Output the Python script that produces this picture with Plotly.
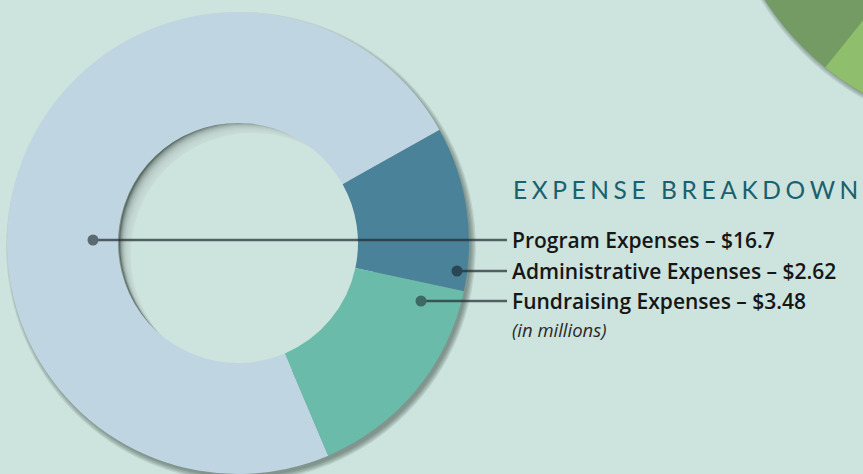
import plotly.graph_objects as go
import math

# ---- data ----
categories = ["Program Expenses", "Administrative Expenses", "Fundraising Expenses"]
values = [16.7, 2.62, 3.48]
value_labels = ["$16.7", "$2.62", "$3.48"]
slice_colors = ["#c0d5e2", "#4a8299", "#6abbaa"]
title_text = "EXPENSE BREAKDOWN"
note_text = "(in millions)"

W, H = 863, 474
BG = "#cde3dd"

# donut geometry in pixels
CX, CY, R = 238, 243, 231
R_HOLE = 120

def X(px):
    return px / W

def Y(py):
    return 1 - py / H

def circ(cx, cy, r, color, opacity=1.0, layer="below"):
    return dict(type="circle", xref="paper", yref="paper",
                x0=X(cx - r), x1=X(cx + r), y0=Y(cy + r), y1=Y(cy - r),
                fillcolor=color, opacity=opacity, line=dict(width=0), layer=layer)

shapes = []

# decorative green circle (top right)
GX, GY, GR = 1000, -150, 279
for k in range(5):
    shapes.append(circ(GX + 2, GY + 3, GR - 1 + k * 1.1, "#2f3f3c", 0.10))
shapes.append(circ(GX, GY, GR, "#739b63"))
pts = []
for i in range(41):
    a = math.radians(50 + (128.8 - 50) * i / 40)
    pts.append((GX + GR * math.cos(a), GY + GR * math.sin(a)))
path = "M {} {} ".format(X(GX), Y(GY)) + " ".join("L {} {}".format(X(px), Y(py)) for px, py in pts) + " Z"
shapes.append(dict(type="path", xref="paper", yref="paper", path=path,
                   fillcolor="#8fbe6d", line=dict(width=0), layer="below"))

# donut drop shadow
for k in range(5):
    shapes.append(circ(CX + 3, CY + 4, R - 1 + k * 1.2, "#2f3f3c", 0.12))

# hole inner shadow
HX, HY = 241, 243
shapes.append(circ(HX, HY, R_HOLE + 2, "#56645f"))
for i in range(1, 17):
    d = i * 0.95
    shapes.append(circ(HX + d * 0.72, HY + d * 0.72, R_HOLE + 2, BG, 0.2))
shapes.append(circ(HX + 17 * 0.95 * 0.72, HY + 17 * 0.95 * 0.72, R_HOLE + 2, BG, 1.0))

fig = go.Figure()

fig.add_trace(go.Pie(
    labels=categories, values=values, sort=False, direction="clockwise",
    rotation=157, hole=R_HOLE / R,
    marker=dict(colors=slice_colors, line=dict(width=0)),
    textinfo="none", hoverinfo="label+value", showlegend=False,
    domain=dict(x=[X(CX - R), X(CX + R)], y=[Y(CY + R), Y(CY - R)]),
))

# invisible trace to establish pixel-scaled overlay axes
fig.add_trace(go.Scatter(x=[], y=[], showlegend=False, hoverinfo="skip"))

# leader lines and dots (pixel overlay axes)
line_rows = [240, 271, 301]
dot_pos = [(93, 240), (457, 271), (421, 301)]
dot_colors = ["#5a6a73", "#2b4652", "#3c6a62"]
LINE_END = 507
for (dx, dy), yy, dc in zip(dot_pos, line_rows, dot_colors):
    shapes.append(dict(type="line", xref="x", yref="y", x0=dx, y0=yy, x1=LINE_END, y1=yy,
                       line=dict(color="rgba(35,45,50,0.72)", width=2.6), layer="above"))
    shapes.append(dict(type="circle", xref="x", yref="y", x0=dx - 5.5, x1=dx + 5.5,
                       y0=dy - 5.5, y1=dy + 5.5, fillcolor=dc, line=dict(width=0), layer="above"))

annotations = []
spaced = "\u2009\u200a".join(list(title_text))
annotations.append(dict(xref="x", yref="y", x=511, y=189, xanchor="left", yanchor="middle",
                        text=spaced, showarrow=False,
                        font=dict(family="Lato", size=24.5, color="#1a6170")))
for cat, lab, yy in zip(categories, value_labels, line_rows):
    annotations.append(dict(xref="x", yref="y", x=510, y=yy, xanchor="left", yanchor="middle",
                            text="{} \u2013 {}".format(cat, lab), showarrow=False,
                            font=dict(family="Open Sans", size=21, weight=600, color="#161616")))
annotations.append(dict(xref="x", yref="y", x=510, y=329, xanchor="left", yanchor="middle",
                        text="<i>{}</i>".format(note_text), showarrow=False,
                        font=dict(family="Open Sans", size=18.5, color="#2a2a2a")))

fig.update_layout(
    width=W, height=H, autosize=False,
    margin=dict(l=0, r=0, t=0, b=0),
    paper_bgcolor=BG, plot_bgcolor="rgba(0,0,0,0)",
    xaxis=dict(range=[0, W], visible=False, fixedrange=True, domain=[0, 1]),
    yaxis=dict(range=[H, 0], visible=False, fixedrange=True, domain=[0, 1]),
    shapes=shapes, annotations=annotations, showlegend=False,
)

fig.write_html("out.html", config={"displayModeBar": False},
               post_script="document.body.style.margin='0';document.body.style.overflow='hidden';")
